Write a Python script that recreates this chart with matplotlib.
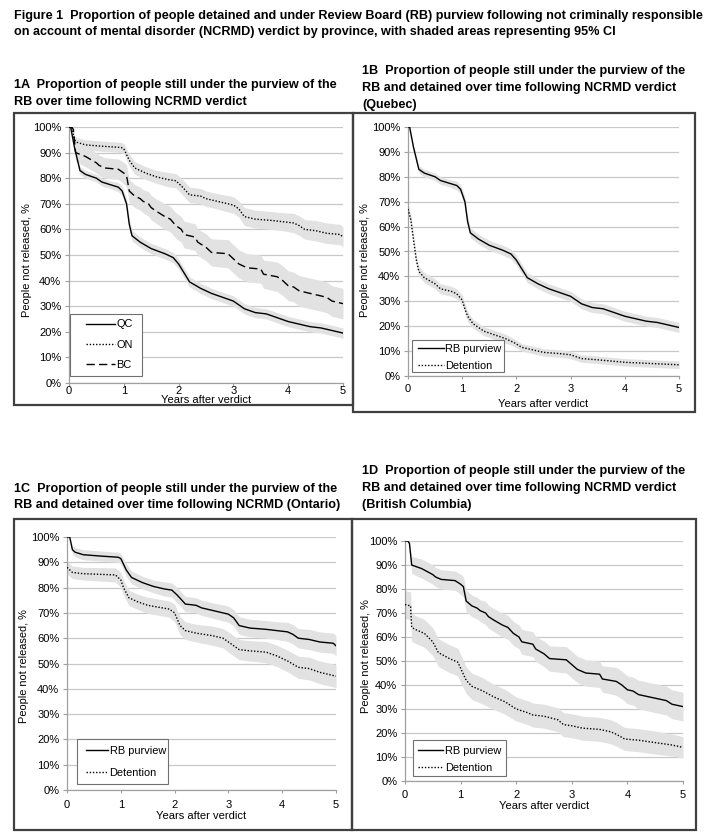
import matplotlib
matplotlib.use("Agg")
import matplotlib.pyplot as plt
import numpy as np
from matplotlib.patches import Rectangle
from matplotlib.ticker import PercentFormatter

plt.rcParams['font.family'] = ['Liberation Sans', 'DejaVu Sans']

# ---------------- data ----------------
# Quebec, RB purview
qc_rb_t = [0, 0.03, 0.1, 0.2, 0.3, 0.5, 0.6, 0.75, 0.9, 0.97, 1.05, 1.1, 1.15, 1.3, 1.5, 1.75, 1.9, 2.0, 2.1, 2.2,
           2.4, 2.6, 2.8, 3.0, 3.2, 3.4, 3.6, 3.8, 4.0, 4.2, 4.4, 4.6, 4.8, 5.0]
qc_rb_v = [100, 100, 92, 83, 81.5, 80, 78.5, 77.5, 76.5, 75, 70, 62, 57.5, 55, 52.5, 50.5, 49, 46.5, 43, 39.5,
           37, 35, 33.5, 32, 29, 27.5, 27, 25.5, 24, 23, 22, 21.5, 20.5, 19.5]
qc_rb_ci = [0, 0, 1, 1.5, 1.5, 1.5, 1.5, 1.5, 1.8, 1.8, 2, 2, 2, 2, 2, 2, 2, 2, 2, 2,
            2, 2, 2, 2, 2, 2, 2, 2, 2, 2, 2, 2, 2, 2]

# Quebec, detention
qc_det_t = [0, 0.05, 0.1, 0.15, 0.2, 0.3, 0.5, 0.6, 0.8, 0.9, 1.0, 1.05, 1.1, 1.2, 1.4, 1.6, 1.8, 1.95, 2.1, 2.3,
            2.5, 2.8, 3.0, 3.2, 3.5, 4.0, 4.5, 5.0]
qc_det_v = [67, 63, 55, 47, 42, 39.5, 37, 35, 34, 33, 30.5, 27, 24, 21, 18, 16.5, 15, 13.5, 11.5, 10.5,
            9.5, 9, 8.5, 7, 6.5, 5.5, 5, 4.5]
qc_det_ci = [2, 2, 2, 2, 2, 2, 2, 2, 2, 2, 2, 2, 2, 1.8, 1.8, 1.8, 1.8, 1.5, 1.5, 1.5,
             1.5, 1.5, 1.5, 1.5, 1.5, 1.5, 1.5, 1.5]

# Ontario, RB purview
on_rb_t = [0, 0.05, 0.1, 0.15, 0.3, 0.6, 0.95, 1.0, 1.1, 1.2, 1.4, 1.6, 1.8, 1.95, 2.05, 2.2, 2.4, 2.5, 2.7, 2.9,
           3.0, 3.1, 3.2, 3.4, 3.7, 3.9, 4.1, 4.2, 4.3, 4.5, 4.7, 4.95, 5.0]
on_rb_v = [100, 100, 95, 94, 93, 92.5, 92, 91.5, 87, 84, 82, 80.5, 79.5, 79, 77, 73.5, 73, 72, 71, 70,
           69.5, 68, 65, 64, 63.5, 63, 62.5, 61.5, 60, 59.5, 58.5, 58, 57]
on_rb_ci = [0, 0, 1.5, 1.8, 2, 2, 2, 2, 2.5, 2.5, 2.5, 2.5, 2.8, 2.8, 3, 3, 3, 3, 3, 3.2,
            3.2, 3.2, 3.5, 3.5, 3.5, 3.5, 3.8, 3.8, 3.8, 4, 4, 4, 4]

# Ontario, detention
on_det_t = [0, 0.1, 0.3, 0.9, 1.0, 1.05, 1.15, 1.3, 1.5, 1.9, 2.0, 2.1, 2.2, 2.4, 2.7, 2.9, 3.0, 3.2, 3.4, 3.7,
            3.9, 4.1, 4.3, 4.5, 4.7, 5.0]
on_det_v = [88, 86, 85.5, 85, 83, 80, 76, 74.5, 73, 71.5, 70, 65, 63, 62, 61, 60, 58.5, 55.5, 55, 54.5,
            53, 51, 48.5, 48, 46.5, 45]
on_det_ci = [2.5, 2.5, 2.5, 2.8, 3, 3, 3, 3, 3.2, 3.2, 3.5, 3.5, 3.5, 3.5, 3.8, 3.8, 4, 4, 4, 4.2,
             4.2, 4.3, 4.4, 4.5, 4.5, 4.5]

# British Columbia, RB purview
bc_rb_t = [0, 0.05, 0.08, 0.12, 0.3, 0.5, 0.55, 0.65, 0.9, 1.0, 1.05, 1.1, 1.2, 1.3, 1.35, 1.45, 1.5, 1.6, 1.75, 1.85,
           1.95, 2.05, 2.1, 2.3, 2.35, 2.5, 2.6, 2.9, 3.0, 3.1, 3.25, 3.5, 3.55, 3.8, 3.9, 4.0, 4.1, 4.2, 4.4, 4.7,
           4.8, 5.0]
bc_rb_v = [100, 100, 99, 90, 88.5, 86, 85, 84, 83.5, 82, 81, 75, 73, 72, 71, 70, 68.5, 67, 65, 64,
           61.5, 60, 58, 57, 55, 53, 51, 50.5, 48.5, 46.5, 45, 44.5, 42.5, 41.5, 40, 38, 37.5, 36, 35, 33.5,
           32, 31]
bc_rb_ci = [0, 0, 1, 3.5, 4, 4, 4, 4, 4, 4.2, 4.2, 4.5, 4.5, 4.5, 4.5, 4.8, 4.8, 4.8, 5, 5,
            5, 5, 5.2, 5.2, 5.2, 5.3, 5.3, 5.5, 5.5, 5.5, 5.5, 5.5, 5.5, 5.8, 5.8, 5.8, 5.8, 6, 6, 6,
            6, 6]

# British Columbia, detention
bc_det_t = [0, 0.1, 0.12, 0.2, 0.35, 0.5, 0.6, 0.8, 0.95, 1.0, 1.1, 1.2, 1.4, 1.6, 1.8, 2.0, 2.2, 2.3, 2.5, 2.75,
            2.85, 3.0, 3.2, 3.5, 3.7, 3.8, 3.95, 4.2, 4.5, 4.8, 5.0]
bc_det_v = [73.5, 73, 64, 63, 61.5, 58, 53.5, 51, 49.5, 47, 42, 39.5, 37.5, 35, 33, 30, 28.5, 27.5, 27, 25.5,
            23.5, 23, 22, 21.5, 20.5, 19.5, 17.5, 17, 16, 15, 14]
bc_det_ci = [5.8, 5.8, 5.8, 5.8, 5.8, 5.8, 5.8, 5.8, 5.8, 5.8, 5.5, 5.5, 5.5, 5.2, 5.2, 5, 5, 5, 5, 5,
             5, 5, 5, 5, 5, 5, 4.8, 4.8, 4.8, 4.6, 4.5]

year_ticks = [0, 1, 2, 3, 4, 5]
pct_ticks = [0, 10, 20, 30, 40, 50, 60, 70, 80, 90, 100]

fig_title = ("Figure 1  Proportion of people detained and under Review Board (RB) purview following not criminally responsible\n"
             "on account of mental disorder (NCRMD) verdict by province, with shaded areas representing 95% CI")
title_1a = "1A  Proportion of people still under the purview of the\nRB over time following NCRMD verdict"
title_1b = "1B  Proportion of people still under the purview of the\nRB and detained over time following NCRMD verdict\n(Quebec)"
title_1c = "1C  Proportion of people still under the purview of the\nRB and detained over time following NCRMD (Ontario)"
title_1d = "1D  Proportion of people still under the purview of the\nRB and detained over time following NCRMD verdict\n(British Columbia)"

# ---------------- drawing ----------------
W, H = 708, 838
fig = plt.figure(figsize=(W / 100, H / 100), dpi=100)

def px_axes(x0, x5, y100, y0):
    ax = fig.add_axes([x0 / W, 1 - y0 / H, (x5 - x0) / W, (y0 - y100) / H])
    ax._px = (x0, x5, y100, y0)
    return ax

def ax_frac(ax, px, py):
    x0, x5, y100, y0 = ax._px
    return (px - x0) / (x5 - x0), (y0 - py) / (y0 - y100)

def px_box(x0, y0, x1, y1):
    r = Rectangle((x0 / W, 1 - y1 / H), (x1 - x0) / W, (y1 - y0) / H, transform=fig.transFigure,
                  fill=False, edgecolor='#404040', linewidth=1.6, zorder=0)
    fig.add_artist(r)

SHADE = '#e2e2e2'
STY = {'solid': dict(ls='-'), 'dot': dict(ls=(0, (1, 1.3))), 'dash': dict(ls=(0, (6, 3)))}

def series(ax, t, v, ci, style, label):
    t = np.asarray(t); v = np.asarray(v); ci = np.asarray(ci)
    ax.fill_between(t, v - ci, v + ci, color=SHADE, lw=0, zorder=1)
    ax.plot(t, v, color='black', lw=1.0, zorder=3, label=label, **STY[style])

def style_axes(ax, xpad, xlabpad, ylab_x, ylab_y):
    ax.set_xlim(0, 5)
    ax.set_ylim(0, 100)
    ax.set_xticks(year_ticks)
    ax.set_yticks(pct_ticks)
    ax.yaxis.set_major_formatter(PercentFormatter(decimals=0))
    ax.grid(axis='y', color='#c8c8c8', lw=0.9)
    ax.set_axisbelow(True)
    for s in ('top', 'right'):
        ax.spines[s].set_visible(False)
    for s in ('left', 'bottom'):
        ax.spines[s].set_color('#a0a0a0')
        ax.spines[s].set_linewidth(0.9)
    ax.tick_params(axis='y', labelsize=8, color='#a0a0a0', length=3, pad=2.5, labelcolor='black')
    ax.tick_params(axis='x', labelsize=8, color='#a0a0a0', length=2, pad=xpad, labelcolor='black')
    ax.set_xlabel('Years after verdict', fontsize=8, labelpad=xlabpad)
    ax.set_ylabel('People not released, %', fontsize=7.9, va='center')
    ax.yaxis.set_label_coords(ylab_x, ylab_y)

def legend(ax, box, handle_x, centre_y, spacing, hlen):
    # frame drawn separately so its padding can follow the reference exactly
    bx0, by0 = ax_frac(ax, box[0], box[3])
    bx1, by1 = ax_frac(ax, box[2], box[1])
    ax.add_patch(Rectangle((bx0, by0), bx1 - bx0, by1 - by0, transform=ax.transAxes,
                           facecolor='white', edgecolor='#707070', lw=0.8, zorder=4, clip_on=False))
    hx, cy = ax_frac(ax, handle_x, centre_y)
    lg = ax.legend(loc='center left', bbox_to_anchor=(hx, cy), fontsize=7.9, frameon=False,
                   handlelength=hlen, handletextpad=0.15, labelspacing=spacing,
                   borderpad=0, borderaxespad=0)
    lg.set_zorder(5)
    return lg

# frames
px_box(14, 113, 353, 405)
px_box(353, 113, 695, 412)
px_box(14, 519, 352, 830)
px_box(352, 519, 696, 830)

# titles
TKW = dict(ha='left', va='top', fontsize=9.1, fontweight='bold', linespacing=1.55)
fig.text(14 / W, 1 - 9.5 / H, fig_title, **TKW)
fig.text(14 / W, 1 - 79 / H, title_1a, **TKW)
fig.text(362 / W, 1 - 65 / H, title_1b, **TKW)
fig.text(14 / W, 1 - 482.5 / H, title_1c, **TKW)
fig.text(362 / W, 1 - 465 / H, title_1d, **TKW)

# 1A
ax = px_axes(69, 343, 127, 383)
series(ax, qc_rb_t, qc_rb_v, qc_rb_ci, 'solid', 'QC')
series(ax, on_rb_t, on_rb_v, on_rb_ci, 'dot', 'ON')
series(ax, bc_rb_t, bc_rb_v, bc_rb_ci, 'dash', 'BC')
style_axes(ax, 0.0, -0.5, -0.1515, 0.48)
legend(ax, (70, 314, 142, 376), 86, 344.5, 0.92, 2.6)

# 1B
ax = px_axes(408, 679, 127, 376)
series(ax, qc_rb_t, qc_rb_v, qc_rb_ci, 'solid', 'RB purview')
series(ax, qc_det_t, qc_det_v, qc_det_ci, 'dot', 'Detention')
style_axes(ax, 3.5, 4.0, -0.159, 0.466)
legend(ax, (412, 340, 504, 372), 418, 357.5, 0.6, 2.35)

# 1C
ax = px_axes(67, 336, 537, 790)
series(ax, on_rb_t, on_rb_v, on_rb_ci, 'solid', 'RB purview')
series(ax, on_det_t, on_det_v, on_det_ci, 'dot', 'Detention')
style_axes(ax, 5.5, 0.5, -0.160, 0.49)
legend(ax, (77, 739, 168, 784), 86, 762, 1.05, 2.0)

# 1D
ax = px_axes(405, 683, 541, 781)
series(ax, bc_rb_t, bc_rb_v, bc_rb_ci, 'solid', 'RB purview')
series(ax, bc_det_t, bc_det_v, bc_det_ci, 'dot', 'Detention')
style_axes(ax, 4.5, 1.0, -0.142, 0.52)
legend(ax, (413, 740, 506, 776), 418, 759.5, 0.6, 2.3)

fig.savefig('out.png', dpi=100, facecolor='white')
